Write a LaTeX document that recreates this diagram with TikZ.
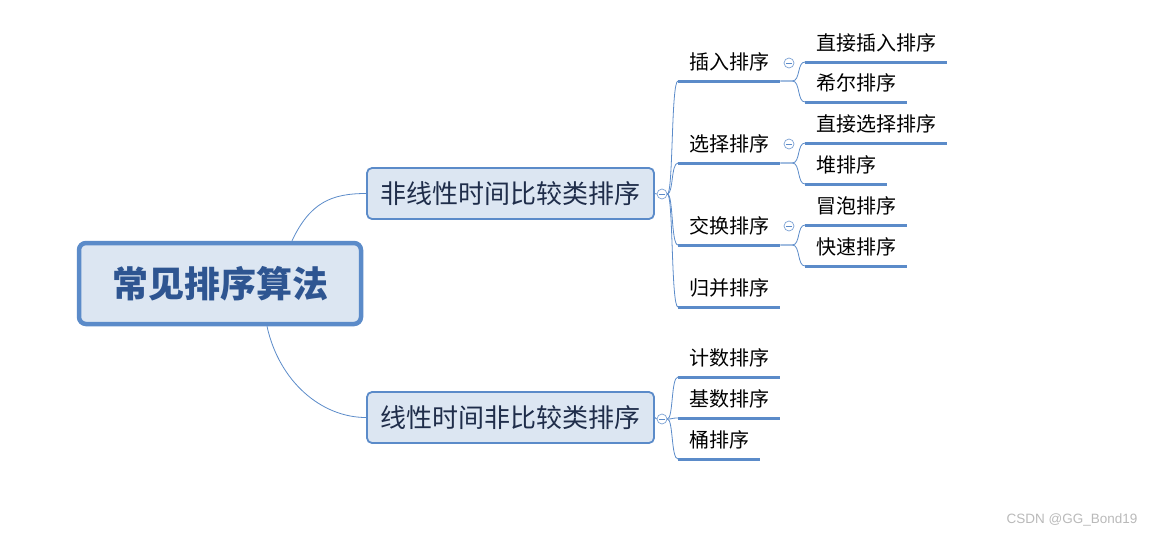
\documentclass[tikz,border=0pt]{standalone}
\usepackage{fontspec}
\setmainfont{Noto Sans CJK SC}
\newfontfamily\markfont{Liberation Sans}
\usetikzlibrary{positioning}
\definecolor{mapblue}{HTML}{5B8BC9}
\definecolor{mapfill}{HTML}{DCE6F2}
\definecolor{roottext}{HTML}{2E5591}
\definecolor{topictext}{HTML}{1F2D4A}

\begin{document}
\begin{tikzpicture}[x=1pt, y=-1pt,
    root/.style={draw=mapblue, line width=4.5pt, fill=mapfill, rounded corners=7pt,
                 minimum width=282pt, minimum height=81pt, text=roottext,
                 font=\fontsize{36}{42}\selectfont\bfseries},
    topic/.style={draw=mapblue, line width=1.8pt, fill=mapfill, rounded corners=5pt,
                  minimum width=287pt, minimum height=51pt, text=topictext,
                  font=\fontsize{26}{30}\selectfont},
    leaf/.style={anchor=south west, inner xsep=11pt, inner ysep=7pt,
                 text height=17pt, text depth=4pt, font=\fontsize{20}{24}\selectfont},
    uline/.style={draw=mapblue, line width=3pt},
    link/.style={draw=mapblue, line width=0.8pt},
    fold/.style={draw=mapblue!80, fill=white, circle, inner sep=0pt,
                 minimum size=10pt, line width=0.7pt,
                 path picture={\draw[mapblue, line width=0.7pt]
                   ([xshift=-2.8pt]path picture bounding box.center) --
                   ([xshift=2.8pt]path picture bounding box.center);}}]
  \useasboundingbox (0,0) rectangle (1154,536);

  %% Central topic and main branches
  \node[root] (root) at (220,283.5) {常见排序算法};
  \node[topic] (n1) at (510.5,193.5) {非线性时间比较类排序};
  \node[topic] (n2) at (510.5,417.5) {线性时间非比较类排序};
  \node[fold] (f1) at (662,194) {};
  \node[fold] (f2) at (662,419) {};

  %% Second level
  \node[leaf] (ins) at (678,81)  {插入排序};
  \node[leaf] (sel) at (678,163) {选择排序};
  \node[leaf] (swp) at (678,245) {交换排序};
  \node[leaf] (mrg) at (678,307) {归并排序};
  \node[leaf] (cnt) at (678,377) {计数排序};
  \node[leaf] (rdx) at (678,418) {基数排序};
  \node[leaf] (bkt) at (678,459) {桶排序};
  \node[fold] (fi) at (789,63)  {};
  \node[fold] (fs) at (789,144) {};
  \node[fold] (fw) at (789,226) {};

  %% Third level
  \node[leaf] (ins1) at (805,62)  {直接插入排序};
  \node[leaf] (ins2) at (805,102) {希尔排序};
  \node[leaf] (sel1) at (805,143) {直接选择排序};
  \node[leaf] (sel2) at (805,184) {堆排序};
  \node[leaf] (swp1) at (805,225) {冒泡排序};
  \node[leaf] (swp2) at (805,266) {快速排序};

  %% Underlines
  \foreach \n in {ins,sel,swp,mrg,cnt,rdx,bkt,ins1,ins2,sel1,sel2,swp1,swp2}
    \draw[uline] (\n.south west) -- (\n.south east);

  %% Connectors
  \draw[link] ([xshift=72pt]root.north) .. controls +(18,-38) and +(-35,0) .. (n1.west);
  \draw[link] ([xshift=47pt]root.south) .. controls +(12,55) and +(-45,0) .. (n2.west);
  \draw[link] (n1.east) -- (f1.west);
  \draw[link] (n2.east) -- (f2.west);
  \foreach \n in {ins,sel,swp,mrg}
    \draw[link] (f1.east) .. controls +(6,0) and +(-7,0) .. (\n.south west);
  \foreach \n in {cnt,rdx,bkt}
    \draw[link] (f2.east) .. controls +(6,0) and +(-7,0) .. (\n.south west);
  \foreach \p in {ins,sel,swp}
    \foreach \c in {1,2}
      \draw[link] (\p.south east) -- ++(12,0) .. controls +(8,0) and +(-8,0) .. (\p\c.south west);

  %% Watermark
  \node[font=\markfont\fontsize{13.5}{15}\selectfont, text=gray!55, anchor=east]
    (mark) at (1141,520) {CSDN @GG\_Bond19};
\end{tikzpicture}
\end{document}
